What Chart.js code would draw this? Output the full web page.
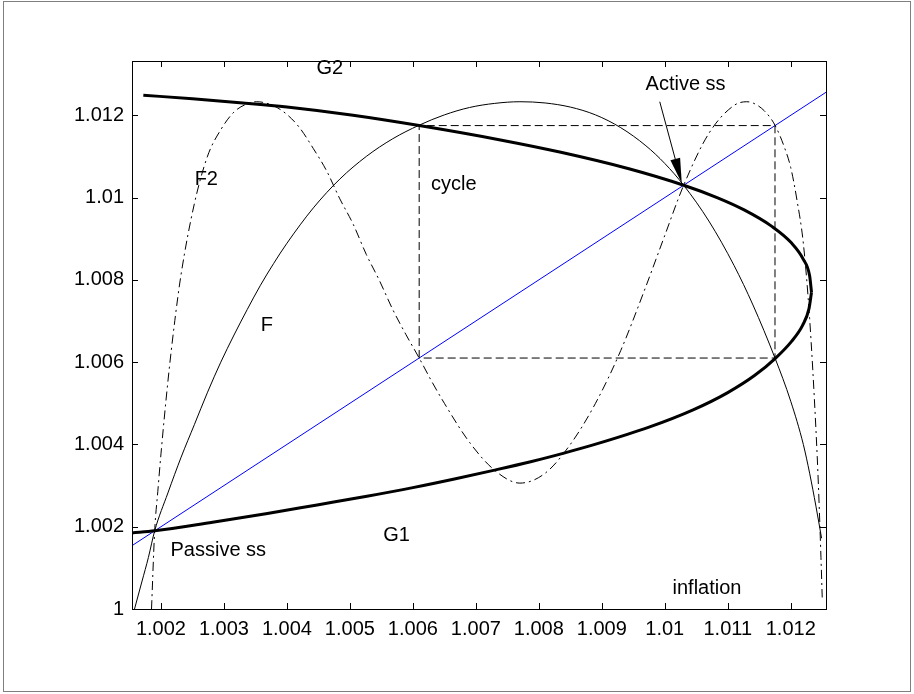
<!DOCTYPE html>
<html><head><meta charset="utf-8">
<script src="https://cdn.jsdelivr.net/npm/chart.js@4/dist/chart.umd.min.js"></script>
<style>html,body{margin:0;padding:0;background:#fff}#wrap{width:914px;height:694px;position:relative}</style>
</head><body><div id="wrap"><canvas id="c"></canvas></div>
<script>
// ---- axis ranges and ticks ----
const xRange = [1.00154, 1.01256];
const yRange = [1.0, 1.01332];
const xTickValues = [1.002,1.003,1.004,1.005,1.006,1.007,1.008,1.009,1.010,1.011,1.012];
const xTickLabels = ['1.002','1.003','1.004','1.005','1.006','1.007','1.008','1.009','1.01','1.011','1.012'];
const yTickValues = [1.0,1.002,1.004,1.006,1.008,1.010,1.012];
const yTickLabels = ['1','1.002','1.004','1.006','1.008','1.01','1.012'];

// ---- series (x, y) ----
const F = [[1.00158,1.0000],[1.0017,1.00068],[1.0018,1.00125],[1.0019,1.0019],[1.00211,1.00282],[1.00232,1.00369],[1.00253,1.00448],[1.00274,1.00527],[1.00295,1.00600],[1.00316,1.00666],[1.00337,1.00728],[1.00358,1.00787],[1.00379,1.00840],[1.004,1.00889],[1.00442,1.00975],[1.00484,1.01045],[1.00526,1.01100],[1.00568,1.01143],[1.0061,1.01176],[1.0065,1.01201],[1.0069,1.01219],[1.0073,1.01229],[1.0077,1.01233],[1.0081,1.0123],[1.0085,1.0122],[1.0089,1.01201],[1.0093,1.0117],[1.0097,1.01126],[1.0100,1.01083],[1.0103,1.0103],[1.0107,1.00943],[1.0111,1.00835],[1.0114,1.00739],[1.01175,1.0061],[1.0120,1.00505],[1.0122,1.0040],[1.0123,1.0033],[1.0124,1.0025],[1.01249,1.00172]];
const F2 = [[1.00185,1.0],[1.0019,1.0019],[1.00195,1.00286],[1.002,1.00377],[1.00211,1.00553],[1.00222,1.00701],[1.00232,1.00814],[1.00253,1.00985],[1.00274,1.01101],[1.00295,1.01165],[1.00316,1.01208],[1.00337,1.01228],[1.00352,1.01233],[1.00379,1.01223],[1.004,1.01202],[1.0042,1.0117],[1.00442,1.01119],[1.00463,1.01065],[1.00484,1.00997],[1.00505,1.00936],[1.00526,1.00862],[1.00547,1.00798],[1.00568,1.00728],[1.00589,1.00667],[1.0061,1.0061],[1.0063,1.00553],[1.0065,1.005],[1.0069,1.00405],[1.0073,1.00337],[1.0077,1.00306],[1.0081,1.0033],[1.0085,1.004],[1.0089,1.005],[1.0093,1.00628],[1.0097,1.00784],[1.0100,1.00908],[1.0103,1.0103],[1.0107,1.01156],[1.0111,1.01224],[1.0113,1.01233],[1.0114,1.0123],[1.01158,1.01211],[1.01175,1.01176],[1.0119,1.01122],[1.0120,1.01073],[1.0121,1.00993],[1.0122,1.00889],[1.0123,1.00706],[1.0124,1.00437],[1.01244,1.00299],[1.01248,1.00125],[1.0125,1.00028]];
const G1 = [[1.00154,1.00185],[1.0019,1.0019],[1.00282,1.00211],[1.00369,1.00232],[1.00448,1.00253],[1.00527,1.00274],[1.0060,1.00295],[1.00666,1.00316],[1.00728,1.00337],[1.00787,1.00358],[1.0084,1.00379],[1.00889,1.004],[1.00975,1.00442],[1.01045,1.00484],[1.0110,1.00526],[1.01143,1.00568],[1.01176,1.0061],[1.01201,1.0065],[1.01219,1.0069],[1.01229,1.0073],[1.01233,1.0077]];
const G2 = [[1.00172,1.01249],[1.0025,1.0124],[1.0033,1.0123],[1.0040,1.0122],[1.00505,1.0120],[1.0061,1.01175],[1.00739,1.0114],[1.00835,1.0111],[1.00943,1.0107],[1.0103,1.0103],[1.01083,1.0100],[1.01126,1.0097],[1.0117,1.0093],[1.01201,1.0089],[1.0122,1.0085],[1.0123,1.0081],[1.01233,1.0077]];
const diagX = [1.00154, 1.01256];
const diagY = [1.00154, 1.01256];
const cycleX = [1.0061, 1.0061, 1.01175, 1.01175, 1.0061];
const cycleY = [1.0061, 1.01175, 1.01175, 1.0061, 1.0061];

// ---- annotations ----
const labelText = ['G2','Active ss','F2','cycle','F','G1','Passive ss','inflation'];
const labelX = [1.00468, 1.01033, 1.00272, 1.00665, 1.00368, 1.00574, 1.00291, 1.01067];
const labelY = [1.01315, 1.01274, 1.01043, 1.01031, 1.00690, 1.00179, 1.00143, 1.00050];
const arrowFrom = [1.00992, 1.01233];
const arrowTo = [1.01027, 1.01035];

const pts = a => a.map(p => ({x: p[0], y: p[1]}));
const zip = (xs, ys) => xs.map((v, i) => ({x: v, y: ys[i]}));
const FONT = '"Liberation Sans", Arial, Helvetica, sans-serif';

const deco = {
  id: 'deco',
  beforeDraw(chart) {
    const c = chart.ctx;
    c.save();
    c.fillStyle = '#fff'; c.fillRect(0, 0, chart.width, chart.height);
    c.strokeStyle = '#7f7f7f'; c.lineWidth = 1;
    c.strokeRect(3.5, 1.5, 907, 690);
    c.restore();
  },
  afterDatasetsDraw(chart) {
    const {ctx, chartArea: a, scales: {x, y}} = chart;
    ctx.save();
    ctx.strokeStyle = '#000'; ctx.lineWidth = 1;
    ctx.strokeRect(a.left + 0.5, a.top + 0.5, a.right - a.left, a.bottom - a.top);
    ctx.beginPath();
    const T = 6;
    xTickValues.forEach(v => {
      const px = Math.round(x.getPixelForValue(v)) + 0.5;
      ctx.moveTo(px, a.bottom); ctx.lineTo(px, a.bottom - T);
      ctx.moveTo(px, a.top); ctx.lineTo(px, a.top + T);
    });
    yTickValues.forEach(v => {
      const py = Math.round(y.getPixelForValue(v)) + 0.5;
      ctx.moveTo(a.left, py); ctx.lineTo(a.left + T, py);
      ctx.moveTo(a.right, py); ctx.lineTo(a.right - T, py);
    });
    ctx.stroke();
    // annotations
    ctx.fillStyle = '#000';
    ctx.font = '20px ' + FONT;
    ctx.textAlign = 'center'; ctx.textBaseline = 'middle';
    labelText.forEach((t, i) => ctx.fillText(t, x.getPixelForValue(labelX[i]), y.getPixelForValue(labelY[i])));
    // arrow
    const x0 = x.getPixelForValue(arrowFrom[0]), y0 = y.getPixelForValue(arrowFrom[1]);
    const x1 = x.getPixelForValue(arrowTo[0]), y1 = y.getPixelForValue(arrowTo[1]);
    const ang = Math.atan2(y1 - y0, x1 - x0), L = 25, W = 5;
    const bx = x1 - L * Math.cos(ang), by = y1 - L * Math.sin(ang);
    ctx.beginPath(); ctx.moveTo(x0, y0); ctx.lineTo(bx, by); ctx.stroke();
    ctx.beginPath();
    ctx.moveTo(x1, y1);
    ctx.lineTo(bx + W * Math.sin(ang), by - W * Math.cos(ang));
    ctx.lineTo(bx - W * Math.sin(ang), by + W * Math.cos(ang));
    ctx.closePath(); ctx.fill();
    ctx.restore();
  }
};

const line = (data, opts) => Object.assign({data, showLine: true, pointRadius: 0, borderColor: '#000', borderWidth: 1, fill: false, cubicInterpolationMode: 'monotone'}, opts);

new Chart(document.getElementById('c'), {
  type: 'scatter',
  data: {datasets: [
    line(pts(G1), {borderWidth: 3, order: 1}),
    line(pts(G2), {borderWidth: 3, order: 1}),
    line(pts(F), {order: 2}),
    line(pts(F2), {borderDash: [9, 4, 2, 4], order: 3}),
    line(zip(cycleX, cycleY), {borderDash: [8, 4], cubicInterpolationMode: 'default', tension: 0, order: 4}),
    line(zip(diagX, diagY), {borderColor: '#0000ff', cubicInterpolationMode: 'default', tension: 0, order: 5})
  ]},
  options: {
    responsive: true, maintainAspectRatio: false, animation: false, devicePixelRatio: 1,
    layout: {padding: {left: 0, top: 61, right: 88, bottom: 0}},
    plugins: {legend: {display: false}, tooltip: {enabled: false}},
    scales: {
      x: {
        type: 'linear', min: xRange[0], max: xRange[1],
        grid: {display: false, drawTicks: false}, border: {display: false},
        ticks: {color: '#000', font: {family: FONT, size: 20}, padding: 8, maxRotation: 0, autoSkip: false,
          callback: (v, i) => xTickLabels[i]},
        afterBuildTicks: s => { s.ticks = xTickValues.map(v => ({value: v})); },
        afterFit: s => { s.height = 85; }
      },
      y: {
        type: 'linear', min: yRange[0], max: yRange[1],
        grid: {display: false, drawTicks: false}, border: {display: false},
        ticks: {color: '#000', font: {family: FONT, size: 20}, padding: 8, autoSkip: false,
          callback: (v, i) => yTickLabels[i]},
        afterBuildTicks: s => { s.ticks = yTickValues.map(v => ({value: v})); },
        afterFit: s => { s.width = 132; }
      }
    }
  },
  plugins: [deco]
});
</script></body></html>
